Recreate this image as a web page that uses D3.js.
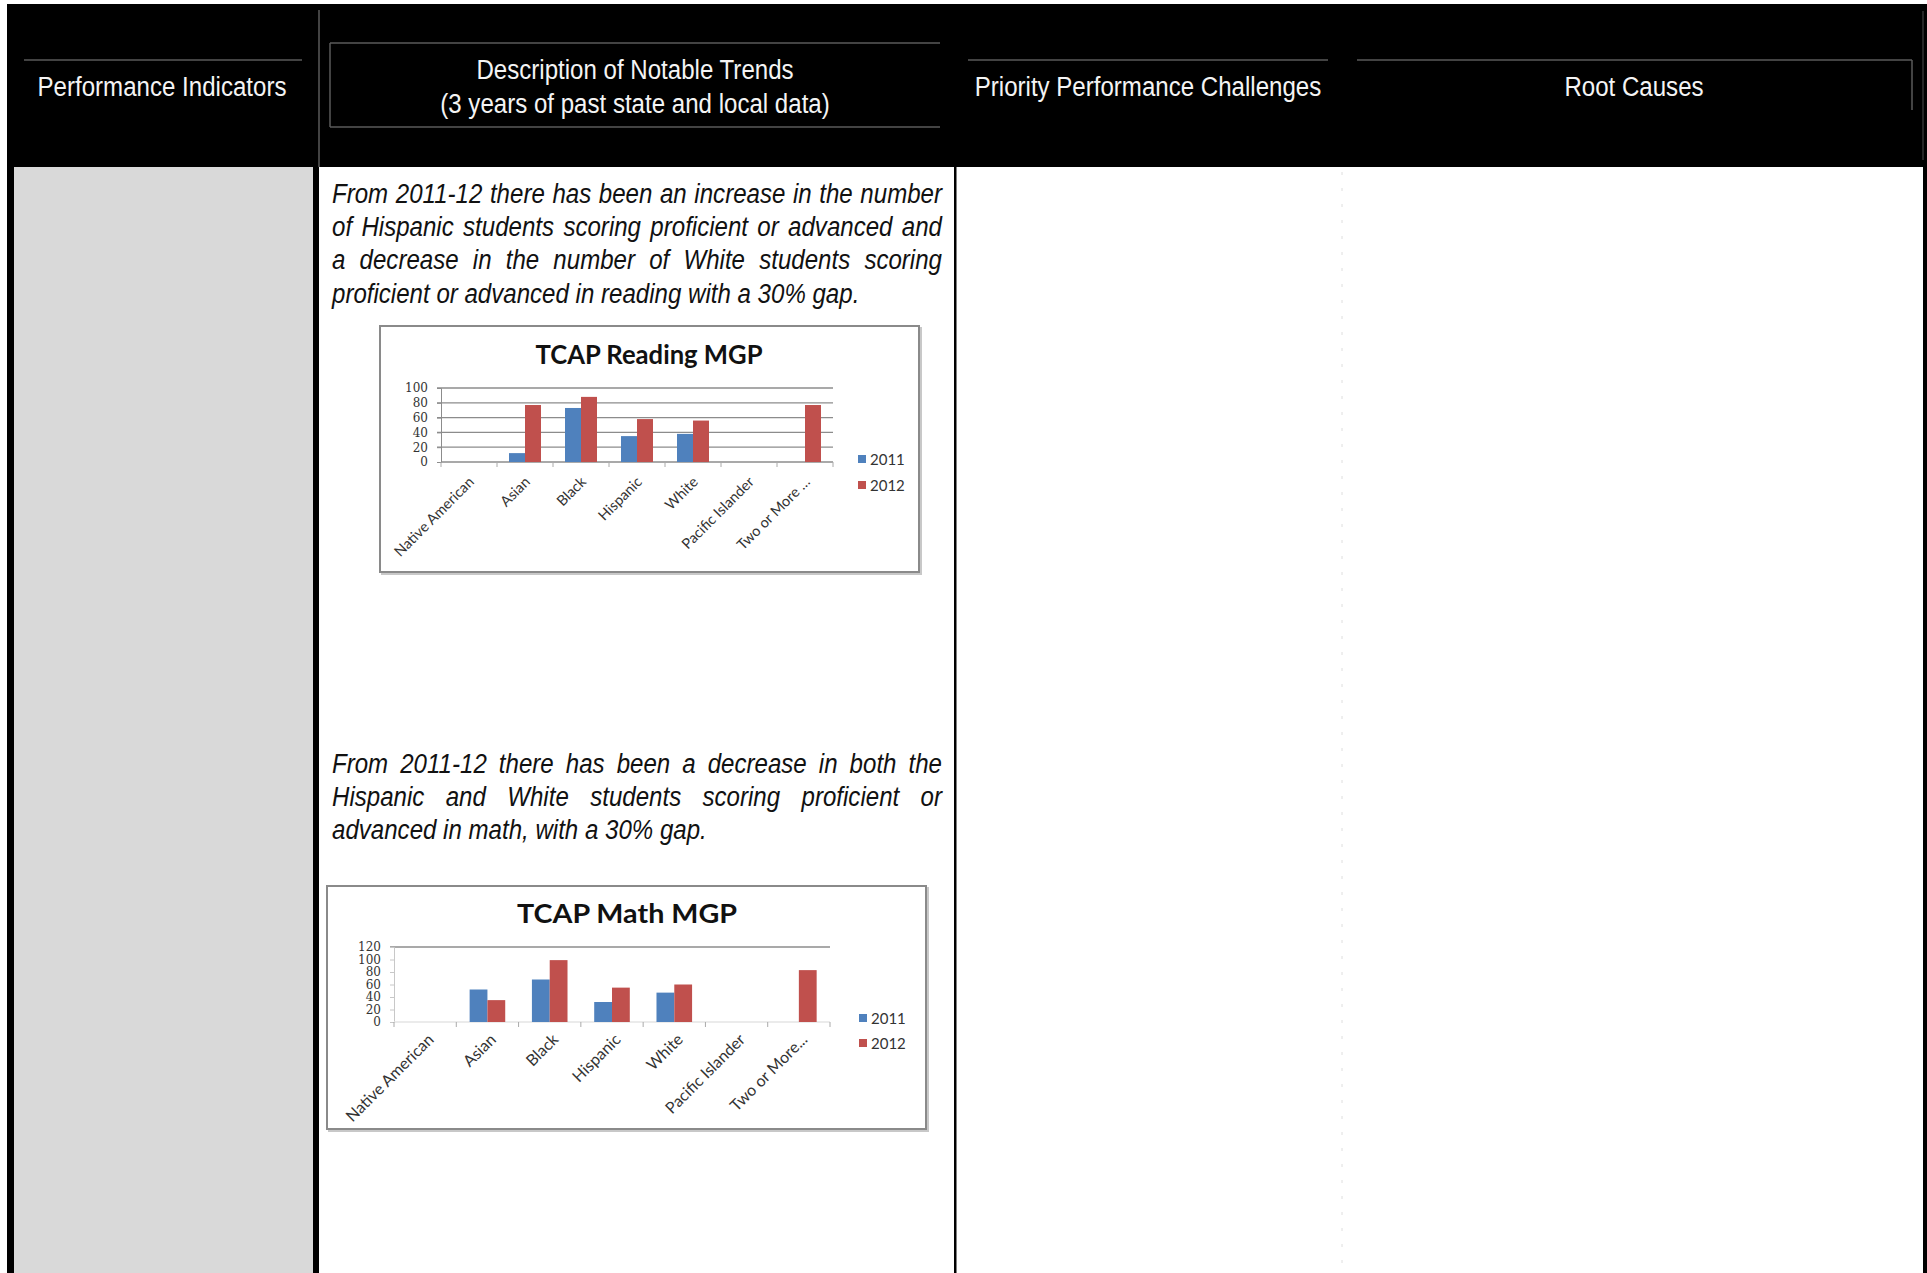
<!DOCTYPE html>
<html>
<head>
<meta charset="utf-8">
<script src="https://cdn.jsdelivr.net/npm/d3@7"></script>
<style>
  html, body { margin: 0; padding: 0; background: #fff; }
  svg { display: block; }
</style>
</head>
<body>
<div id="page"></div>
<script>
// ---- data ----
const readingCategories = ["Native American", "Asian", "Black", "Hispanic", "White", "Pacific Islander", "Two or More …"];
const mathCategories = ["Native American", "Asian", "Black", "Hispanic", "White", "Pacific Islander", "Two or More..."];
const seriesNames = ["2011", "2012"];
const reading2011 = [null, 12, 73, 35, 38, null, null];
const reading2012 = [null, 77, 88, 58, 56, null, 77];
const math2011 = [null, 52, 68, 32, 47, null, null];
const math2012 = [null, 35, 99, 55, 60, null, 83];
const readingTicks = [0, 20, 40, 60, 80, 100];
const mathTicks = [0, 20, 40, 60, 80, 100, 120];

const headerLabels = ["Performance Indicators", "Priority Performance Challenges", "Root Causes"];
const descHeader = ["Description of Notable Trends", "(3 years of past state and local data)"];
const para1 = [
	"From 2011-12 there has been an increase in the number",
	"of Hispanic students scoring proficient or advanced and",
	"a decrease in the number of White students scoring",
	"proficient or advanced in reading with a 30% gap."
];
const para2 = [
	"From 2011-12 there has been a decrease in both the",
	"Hispanic and White students scoring proficient or",
	"advanced in math, with a 30% gap."
];

const COLORS = ["#4f81bd", "#c0504d"];
// no narrow face installed, so squeeze Liberation Sans horizontally
const SANS = "'Liberation Sans', Arial, sans-serif";
const NARROW_SX = 0.86;
const CHARTFONT = "Lato, 'Open Sans', 'Liberation Sans', sans-serif";

const W = 1927, H = 1273;
const svg = d3.select("#page").append("svg")
	.attr("width", W)
	.attr("height", H);

// ---- header band ----
svg.append("rect").attr("x", 7).attr("y", 4).attr("width", W - 7).attr("height", 163).attr("fill", "#000");

function gline(x1, y1, x2, y2, c) {
	svg.append("line")
	.attr("x1", x1).attr("y1", y1).attr("x2", x2).attr("y2", y2)
	.attr("stroke", c || "#5a5a5a")
	.attr("stroke-width", 1.5);
}
gline(24, 60, 302, 60);
gline(319, 10, 319, 167);
gline(330, 43, 940, 43);
gline(330, 127, 940, 127);
gline(330, 43, 330, 127);
gline(968, 60, 1328, 60);
gline(1357, 60, 1912, 60);
gline(1912, 60, 1912, 110);
gline(1923, 11, 1923, 160, "#333");

// narrow text: a group squeezed on x
function narrowText(x, y, t, opts) {
	const g = svg.append("g")
	.attr("transform", `translate(${x},${y}) scale(${NARROW_SX},1)`);
	const txt = g.append("text")
	.attr("x", 0).attr("y", 0)
	.attr("text-anchor", opts.anchor || "start")
	.attr("dominant-baseline", "central")
	.style("font-family", SANS)
	.style("font-size", opts.size)
	.style("font-style", opts.italic ? "italic" : "normal")
	.attr("fill", opts.fill)
	.text(t);
	return txt;
}

function headText(x, y, t) {
	narrowText(x, y, t, {anchor: "middle", size: "28px", fill: "#f4f4f4"});
}
headText(162, 86, headerLabels[0]);
headText(635, 69, descHeader[0]);
headText(635, 103, descHeader[1]);
headText(1148, 86, headerLabels[1]);
headText(1634, 86, headerLabels[2]);

// ---- body columns ----
svg.append("rect").attr("x", 7).attr("y", 167).attr("width", 7).attr("height", H - 167).attr("fill", "#000");
svg.append("rect").attr("x", 14).attr("y", 167).attr("width", 299).attr("height", H - 167).attr("fill", "#d9d9d9");
svg.append("rect").attr("x", 313).attr("y", 167).attr("width", 6).attr("height", H - 167).attr("fill", "#000");
svg.append("rect").attr("x", 954).attr("y", 167).attr("width", 2.5).attr("height", H - 167).attr("fill", "#000");
svg.append("rect").attr("x", 1923).attr("y", 167).attr("width", 4).attr("height", H - 167).attr("fill", "#000");
// faint dotted guide in the challenges column
svg.append("line")
	.attr("x1", 1342).attr("y1", 172).attr("x2", 1342).attr("y2", H)
	.attr("stroke", "#dedede")
	.attr("stroke-width", 1)
	.attr("stroke-dasharray", "3,13");

// ---- justified italic paragraphs ----
function paragraph(lines, x, width, y0, lh) {
	lines.forEach(function(t, i) {
		const txt = narrowText(x, y0 + i * lh, t, {size: "28px", italic: true, fill: "#111"});
		// justify every line but the last
		if (i < lines.length - 1) {
			const natural = txt.node().getComputedTextLength();
			const spaces = t.split(" ").length - 1;
			if (spaces > 0) txt.attr("word-spacing", (width / NARROW_SX - natural) / spaces);
		}
	});
}
paragraph(para1, 332, 610, 193, 33.4);
paragraph(para2, 332, 610, 763, 33.4);

// ---- excel style clustered bar chart ----
function drawChart(cfg) {
	const g = svg.append("g");

	// frame with a soft shadow
	g.append("rect")
	.attr("x", cfg.box.x + 2).attr("y", cfg.box.y + 2)
	.attr("width", cfg.box.w).attr("height", cfg.box.h)
	.attr("fill", "none").attr("stroke", "#c8c8c8").attr("stroke-width", 2);
	g.append("rect")
	.attr("x", cfg.box.x).attr("y", cfg.box.y)
	.attr("width", cfg.box.w).attr("height", cfg.box.h)
	.attr("fill", "#fff").attr("stroke", "#8a8a8a").attr("stroke-width", 2);

	// title
	g.append("text")
	.attr("x", cfg.titleX).attr("y", cfg.titleY)
	.attr("text-anchor", "middle")
	.attr("dominant-baseline", "central")
	.attr("textLength", cfg.titleW)
	.attr("lengthAdjust", "spacingAndGlyphs")
	.style("font-family", CHARTFONT)
	.style("font-weight", "bold")
	.style("font-size", "26px")
	.attr("fill", "#111")
	.text(cfg.title);

	const x = d3.scaleBand()
	.domain(cfg.categories)
	.range([cfg.x0, cfg.x1])
	.padding(0);
	// gap width 150% like the excel default
	const xs = d3.scaleBand()
	.domain(seriesNames)
	.range([0, x.bandwidth()])
	.paddingInner(0)
	.paddingOuter(0.75);
	const y = d3.scaleLinear()
	.domain([0, cfg.ticks[cfg.ticks.length - 1]])
	.range([cfg.yBottom, cfg.yTop]);

	// gridlines
	g.selectAll(".grid")
	.data(cfg.gridTicks)
	.enter()
	.append("line")
	.attr("x1", cfg.x0 - 4).attr("x2", cfg.x1)
	.attr("y1", function(d) { return y(d); })
	.attr("y2", function(d) { return y(d); })
	.attr("stroke", "#8c8c8c")
	.attr("stroke-width", 1.3);

	// y axis
	const yAxis = g.append("g")
	.attr("transform", `translate(${cfg.x0},0)`)
	.call(d3.axisLeft(y).tickValues(cfg.ticks).tickSize(4).tickPadding(9));
	yAxis.select(".domain").attr("stroke", cfg.axisColor);
	yAxis.selectAll(".tick line").attr("stroke", cfg.axisColor);
	yAxis.selectAll("text")
	.style("font-family", "'DejaVu Serif', serif")
	.style("font-size", cfg.yFont)
	.attr("fill", "#333");

	// x axis line and category boundary ticks
	g.append("line")
	.attr("x1", cfg.x0).attr("x2", cfg.x1)
	.attr("y1", cfg.yBottom).attr("y2", cfg.yBottom)
	.attr("stroke", cfg.xAxisColor).attr("stroke-width", 1.3);
	g.selectAll(".bound")
	.data(cfg.categories.concat(["end"]))
	.enter()
	.append("line")
	.attr("x1", function(d, i) { return cfg.x0 + i * x.step(); })
	.attr("x2", function(d, i) { return cfg.x0 + i * x.step(); })
	.attr("y1", cfg.yBottom).attr("y2", cfg.yBottom + 5)
	.attr("stroke", "#aaa");

	// category labels rotated 45 degrees
	g.selectAll(".catlabel")
	.data(cfg.categories)
	.enter()
	.append("text")
	.attr("transform", function(d) {
		return `translate(${x(d) + x.bandwidth() / 2 + cfg.labelDx},${cfg.yBottom + cfg.labelDy}) rotate(-45)`;
	})
	.attr("text-anchor", "end")
	.attr("dominant-baseline", "central")
	.style("font-family", CHARTFONT)
	.style("font-size", cfg.labelFont)
	.attr("fill", "#333")
	.text(function(d) { return d; });

	// bars
	const series = [cfg.s2011, cfg.s2012];
	series.forEach(function(vals, si) {
		g.selectAll(".bar" + si)
		.data(cfg.categories.map(function(c, i) { return {cat: c, v: vals[i]}; }).filter(function(d) { return d.v != null; }))
		.enter()
		.append("rect")
		.attr("x", function(d) { return x(d.cat) + xs(seriesNames[si]); })
		.attr("y", function(d) { return y(d.v); })
		.attr("width", xs.bandwidth())
		.attr("height", function(d) { return cfg.yBottom - y(d.v); })
		.attr("fill", COLORS[si]);
	});

	// legend
	seriesNames.forEach(function(s, i) {
		const ly = cfg.legendY[i];
		g.append("rect")
		.attr("x", cfg.legendX).attr("y", ly - 4)
		.attr("width", 8).attr("height", 8)
		.attr("fill", COLORS[i]);
		g.append("text")
		.attr("x", cfg.legendX + 12).attr("y", ly)
		.attr("dominant-baseline", "central")
		.style("font-family", CHARTFONT)
		.style("font-size", "15px")
		.attr("fill", "#333")
		.text(s);
	});
}

drawChart({
	title: "TCAP Reading MGP",
	titleW: 227,
	categories: readingCategories,
	s2011: reading2011,
	s2012: reading2012,
	ticks: readingTicks,
	gridTicks: [20, 40, 60, 80, 100],
	box: {x: 380, y: 326, w: 539, h: 246},
	titleX: 649, titleY: 354,
	x0: 441, x1: 833,
	yTop: 388, yBottom: 462,
	yFont: "12px",
	axisColor: "#8c8c8c",
	xAxisColor: "#8c8c8c",
	labelFont: "14.5px",
	labelDx: 2, labelDy: 17,
	legendX: 858, legendY: [459, 485]
});

drawChart({
	title: "TCAP Math MGP",
	titleW: 220,
	categories: mathCategories,
	s2011: math2011,
	s2012: math2012,
	ticks: mathTicks,
	gridTicks: [120],
	box: {x: 327, y: 886, w: 599, h: 243},
	titleX: 627, titleY: 913,
	x0: 394, x1: 830,
	yTop: 947, yBottom: 1022,
	yFont: "12px",
	axisColor: "#c8c8c8",
	xAxisColor: "#e4e4e4",
	labelFont: "16px",
	labelDx: 5, labelDy: 14,
	legendX: 859, legendY: [1018, 1043]
});
</script>
</body>
</html>
